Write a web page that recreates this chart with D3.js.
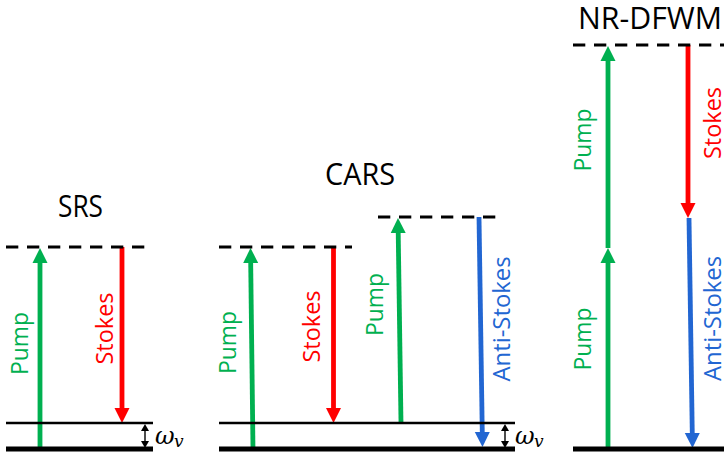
<!DOCTYPE html>
<html>
<head>
<meta charset="utf-8">
<script src="https://cdn.jsdelivr.net/npm/d3@7"></script>
<style>
  html, body { margin: 0; padding: 0; background: #fff; }
  svg { display: block; }
  .title { font-family: "Open Sans", "Noto Sans", sans-serif; font-size: 31px; fill: #000; }
  .beam-label { font-family: "Open Sans", "Noto Sans", sans-serif; font-size: 24px; }
  .omega { font-family: "DejaVu Serif", serif; font-style: italic; fill: #000; }
</style>
</head>
<body>
<div id="chart"></div>
<script>
// energy is in diagram units, ground state = 0
const panelTitles = ["SRS", "CARS", "NR-DFWM"];
const titleX = [80.5, 360, 650];
const titleE = [232, 264, 420];
const titleLen = [45, 70, 144];

const levels = [
  { x0: 6, x1: 153, e: 0, kind: "ground" },
  { x0: 6, x1: 153, e: 26, kind: "vib" },
  { x0: 6, x1: 153, e: 202, kind: "virtual" },
  { x0: 219, x1: 515, e: 0, kind: "ground" },
  { x0: 219, x1: 515, e: 26, kind: "vib" },
  { x0: 219, x1: 352, e: 202, kind: "virtual" },
  { x0: 378, x1: 496, e: 232, kind: "virtual" },
  { x0: 573, x1: 724, e: 0, kind: "ground" },
  { x0: 573, x1: 724, e: 404, kind: "virtual" },
];

const arrows = [
  { x0: 40, e0: 0, x1: 40, e1: 201, beam: "pump" },
  { x0: 122, e0: 202, x1: 122, e1: 26, beam: "stokes" },
  { x0: 253, e0: 0, x1: 250.5, e1: 201, beam: "pump" },
  { x0: 333.5, e0: 202, x1: 333.5, e1: 26, beam: "stokes" },
  { x0: 401, e0: 26, x1: 398, e1: 231, beam: "pump" },
  { x0: 479, e0: 232, x1: 482.5, e1: 2, beam: "antistokes" },
  { x0: 608, e0: 0, x1: 608, e1: 201, beam: "pump" },
  { x0: 608, e0: 201, x1: 608, e1: 403, beam: "pump" },
  { x0: 688, e0: 404, x1: 688, e1: 231, beam: "stokes" },
  { x0: 689, e0: 231, x1: 692.5, e1: 1, beam: "antistokes" },
];

const beamLabels = [
  { text: "Pump", x: 28, e: 105.5, beam: "pump" },
  { text: "Stokes", x: 113, e: 120.5, beam: "stokes" },
  { text: "Pump", x: 236, e: 106.5, beam: "pump" },
  { text: "Stokes", x: 320, e: 122.5, beam: "stokes" },
  { text: "Pump", x: 383, e: 144.5, beam: "pump" },
  { text: "Anti-Stokes", x: 510, e: 130, beam: "antistokes" },
  { text: "Pump", x: 591, e: 309, beam: "pump" },
  { text: "Pump", x: 591, e: 110, beam: "pump" },
  { text: "Stokes", x: 721, e: 326, beam: "stokes" },
  { text: "Anti-Stokes", x: 721, e: 130.5, beam: "antistokes" },
];

const omegaX = [145, 505];

const BEAM_COLORS = { pump: "#00b050", stokes: "#ff0000", antistokes: "#2266d2" };
const LABEL_LEN = { "Pump": 63, "Stokes": 72, "Anti-Stokes": 125 };
const LEVEL_STYLE = {
  ground: { width: 5, dash: null },
  vib: { width: 2.5, dash: null },
  virtual: { width: 3, dash: "12.3 8.7" },
};

const width = 727;
const height = 456;

const x = d3.scaleLinear().domain([0, width]).range([0, width]);
const y = d3.scaleLinear().domain([0, 404]).range([449, 45]);

const svg = d3.select("#chart").append("svg")
  .attr("width", width)
  .attr("height", height);

// beams first so the levels sit on top of their ends
function drawArrow(g, d, color, shaftW, headL, headW) {
  const ax = x(d.x0), ay = y(d.e0), bx = x(d.x1), by = y(d.e1);
  const len = Math.hypot(bx - ax, by - ay);
  const ux = (bx - ax) / len, uy = (by - ay) / len;
  const px = -uy, py = ux;
  const baseX = bx - ux * headL, baseY = by - uy * headL;
  g.append("line")
    .attr("x1", ax).attr("y1", ay)
    .attr("x2", baseX + ux * 1).attr("y2", baseY + uy * 1)
    .attr("stroke", color)
    .attr("stroke-width", shaftW);
  g.append("path")
    .attr("d", `M${bx},${by}L${baseX + px * headW / 2},${baseY + py * headW / 2}L${baseX - px * headW / 2},${baseY - py * headW / 2}Z`)
    .attr("fill", color);
}

const beams = svg.append("g");
arrows.forEach(d => drawArrow(beams, d, BEAM_COLORS[d.beam], 4.8, 15, 15));

svg.append("g")
  .selectAll("line")
  .data(levels)
  .join("line")
  .attr("x1", d => x(d.x0))
  .attr("x2", d => x(d.x1))
  .attr("y1", d => y(d.e))
  .attr("y2", d => y(d.e))
  .attr("stroke", "#000")
  .attr("stroke-width", d => LEVEL_STYLE[d.kind].width)
  .attr("stroke-dasharray", d => LEVEL_STYLE[d.kind].dash);

// omega_v spacing markers
const marks = svg.append("g");
omegaX.forEach(ox => {
  drawArrow(marks, { x0: ox, e0: 13, x1: ox, e1: 25 }, "#000", 1.4, 7, 8);
  drawArrow(marks, { x0: ox, e0: 13, x1: ox, e1: 1 }, "#000", 1.4, 7, 8);
  marks.append("text")
    .attr("class", "omega")
    .attr("x", x(ox) + 10)
    .attr("y", y(5.5))
    .attr("font-size", 24)
    .text("ω");
  marks.append("text")
    .attr("class", "omega")
    .attr("x", x(ox) + 29)
    .attr("y", y(2))
    .attr("font-size", 17)
    .text("v");
});

svg.append("g")
  .selectAll("text")
  .data(beamLabels)
  .join("text")
  .attr("class", "beam-label")
  .attr("transform", d => `translate(${x(d.x)},${y(d.e)}) rotate(-90)`)
  .attr("text-anchor", "middle")
  .attr("fill", d => BEAM_COLORS[d.beam])
  .attr("textLength", d => LABEL_LEN[d.text])
  .attr("lengthAdjust", "spacingAndGlyphs")
  .text(d => d.text);

svg.append("g")
  .selectAll("text")
  .data(panelTitles)
  .join("text")
  .attr("class", "title")
  .attr("x", (d, i) => x(titleX[i]))
  .attr("y", (d, i) => y(titleE[i]))
  .attr("text-anchor", "middle")
  .attr("textLength", (d, i) => titleLen[i])
  .attr("lengthAdjust", "spacingAndGlyphs")
  .text(d => d);
</script>
</body>
</html>
